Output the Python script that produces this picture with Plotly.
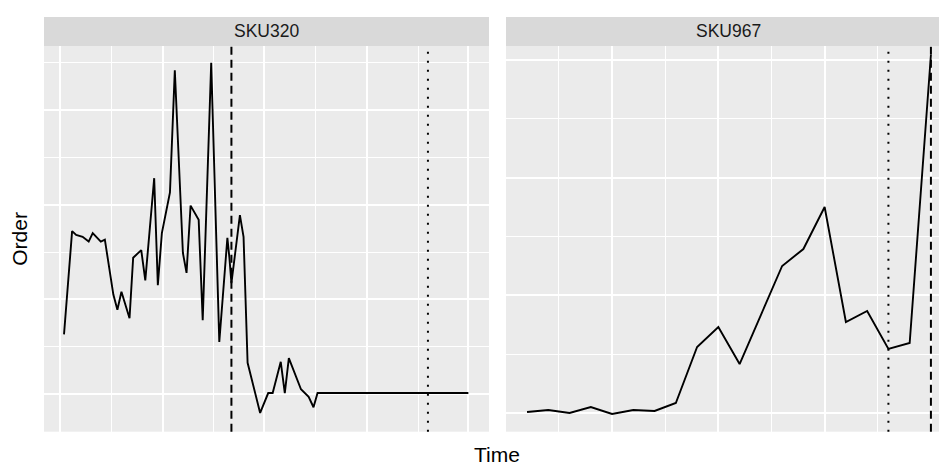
import plotly.graph_objects as go

# ---- data (time index in weeks, order level in arbitrary units) ----
sku320_time = [0, 2, 3, 4.6, 6.1, 7.1, 9.1, 10.1, 12.2, 13.2, 14.2, 16.2, 17.1, 19.1, 20.1,
               22.3, 23.2, 24.2, 26.2, 27.4, 29.4, 30.3, 31.3, 33.3, 34.3, 36.4, 38.4, 40.4,
               40.9, 41.4, 43.5, 44.4, 45.4, 48.5, 50.5, 51.6, 53.6, 54.6, 55.6, 58.6, 60.5,
               61.7, 62.7, 100]
sku320_order = [163, 272, 268, 266, 261, 270, 261, 263, 205, 189, 208, 180, 244, 252, 220,
                328, 215, 270, 313, 442, 249, 228, 299, 284, 178, 450, 155, 265,
                244, 217, 289, 266, 133, 80, 101, 101, 134, 101, 138, 105, 97,
                86, 101, 101]
sku320_dashed = 41.4
sku320_dotted = 90.0

sku967_time = list(range(20))
sku967_order = [100.8, 102.5, 100, 105.1, 99.2, 102.5, 101.7, 108.5, 156.1, 173.1,
                141.6, 183.3, 224.9, 239.3, 275.0, 177.3, 186.7, 154.4, 159.5, 404.2]
sku967_dashed = 19.0
sku967_dotted = 17.0

panel_titles = ["SKU320", "SKU967"]
x_title = "Time"
y_title = "Order"

# grid positions (no labels shown in the reference)
p1_xmajor = [-1, 24.5, 49.5, 75, 100]
p1_xminor = [11.7, 37, 62.2, 87.6]
p1_ymajor = [100, 200, 300, 400]
p1_yminor = [150, 250, 350, 450]
p2_xmajor = [-1, 4, 9, 14, 19]
p2_xminor = [1.5, 6.5, 11.5, 16.5]
p2_ymajor = [100, 200, 300, 400]
p2_yminor = [150, 250, 350]

W, H = 939, 468
FONT = "Liberation Sans, Arial, Helvetica, sans-serif"

def px_x(p):
    return p / W

def px_y(p):
    return (H - p) / H

panel_top, panel_bot = 46, 431.7
strip_top = 17
p1_left, p1_right = 44, 489
p2_left, p2_right = 506, 939

fig = go.Figure()
fig.add_trace(go.Scatter(x=sku320_time, y=sku320_order, mode="lines",
                         line=dict(color="black", width=1.9), xaxis="x", yaxis="y",
                         showlegend=False, hoverinfo="skip"))
fig.add_trace(go.Scatter(x=sku967_time, y=sku967_order, mode="lines",
                         line=dict(color="black", width=1.9), xaxis="x2", yaxis="y2",
                         showlegend=False, hoverinfo="skip"))

def axis(domain, rng, major, minor, anchor):
    return dict(domain=domain, range=rng, anchor=anchor, showticklabels=False, ticks="",
                zeroline=False, showline=False, tickmode="array", tickvals=major,
                showgrid=True, gridcolor="white", gridwidth=1.8,
                minor=dict(tickmode="array", tickvals=minor, showgrid=True,
                           gridcolor="white", gridwidth=0.9, ticks=""))

ydom = [px_y(panel_bot), px_y(panel_top)]
fig.update_layout(
    width=W, height=H, margin=dict(l=0, r=0, t=0, b=0),
    paper_bgcolor="white", plot_bgcolor="#EBEBEB",
    xaxis=axis([px_x(p1_left), px_x(p1_right)], [-4.95, 105.1], p1_xmajor, p1_xminor, "y"),
    yaxis=axis(ydom, [60.2, 467.6], p1_ymajor, p1_yminor, "x"),
    xaxis2=axis([px_x(p2_left), px_x(p2_right)], [-0.99, 19.38], p2_xmajor, p2_xminor, "y2"),
    yaxis2=axis(ydom, [84.1, 411.8], p2_ymajor, p2_yminor, "x2"),
)

shapes = []
# strips
for l, r in [(p1_left, p1_right), (p2_left, p2_right)]:
    shapes.append(dict(type="rect", xref="paper", yref="paper", x0=px_x(l), x1=px_x(r),
                       y0=px_y(panel_top), y1=px_y(strip_top), fillcolor="#D9D9D9",
                       line=dict(width=0), layer="below"))
# vertical reference lines
for xr, yr, xv, dash in [("x", "y domain", sku320_dashed, "8px,5px"),
                         ("x", "y domain", sku320_dotted, "2px,7px"),
                         ("x2", "y2 domain", sku967_dashed, "8px,5px"),
                         ("x2", "y2 domain", sku967_dotted, "2px,7px")]:
    shapes.append(dict(type="line", xref=xr, yref=yr, x0=xv, x1=xv, y0=0, y1=1,
                       line=dict(color="black", width=2, dash=dash), layer="above"))
fig.update_layout(shapes=shapes)

ann = []
for title, (l, r) in zip(panel_titles, [(p1_left, p1_right), (p2_left, 951)]):
    ann.append(dict(text=title, xref="paper", yref="paper", x=px_x((l + r) / 2),
                    y=px_y((strip_top + panel_top) / 2), showarrow=False,
                    font=dict(family=FONT, size=17.5, color="#1A1A1A"),
                    xanchor="center", yanchor="middle"))
ann.append(dict(text=x_title, xref="paper", yref="paper", x=px_x(497), y=px_y(454),
                showarrow=False, font=dict(family=FONT, size=21, color="black"),
                xanchor="center", yanchor="middle"))
ann.append(dict(text=y_title, xref="paper", yref="paper", x=px_x(20), y=px_y(238.8),
                showarrow=False, textangle=-90, font=dict(family=FONT, size=21, color="black"),
                xanchor="center", yanchor="middle"))
fig.update_layout(annotations=ann)

fig.write_html("out.html", config={"displayModeBar": False},
               post_script="document.body.style.margin='0';document.body.style.overflow='hidden';")
